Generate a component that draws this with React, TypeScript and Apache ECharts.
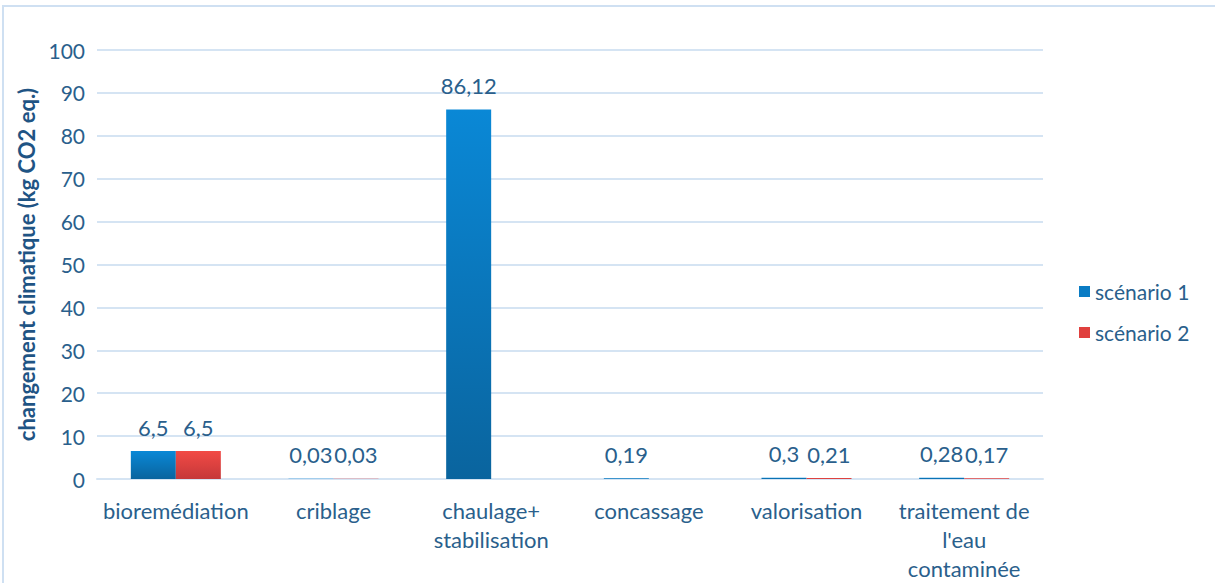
import React, { useEffect, useRef } from "react";
import * as echarts from "echarts";

const categories = [
  "bioremédiation",
  "criblage",
  "chaulage+\nstabilisation",
  "concassage",
  "valorisation",
  "traitement de\nl'eau\ncontaminée",
];
const scenario1 = [6.5, 0.03, 86.12, 0.19, 0.3, 0.28];
const scenario2: (number | null)[] = [6.5, 0.03, null, null, 0.21, 0.17];
const seriesNames = ["scénario 1", "scénario 2"];

const TEXT = "#2a5f8c";
const FONT = "Lato";
const FS = 22;

export default function App() {
  const ref = useRef<HTMLDivElement>(null);
  useEffect(() => {
    if (!ref.current) return;
    const chart = echarts.init(ref.current, null, { renderer: "svg" });
    const fmt = (p: any) =>
      p.value == null ? "" : String(p.value).replace(".", ",");
    const blueGrad = new echarts.graphic.LinearGradient(0, 0, 0, 1, [
      { offset: 0, color: "#0a88d6" },
      { offset: 1, color: "#0a649e" },
    ]);
    const redGrad = new echarts.graphic.LinearGradient(0, 0, 0, 1, [
      { offset: 0, color: "#f24a45" },
      { offset: 1, color: "#c5383a" },
    ]);
    const lbl = {
      show: true,
      position: "top",
      distance: 13,
      color: TEXT,
      fontSize: FS,
      fontFamily: FONT,
      formatter: fmt,
    };
    chart.setOption({
      animation: false,
      textStyle: { fontFamily: FONT },
      graphic: [
        {
          type: "rect",
          shape: { x: 3, y: 6, width: 1220, height: 590 },
          style: { fill: "none", stroke: "#cfe0f2", lineWidth: 2 },
        },
      ],
      grid: { left: 97, right: 172, top: 50, bottom: 102 },
      legend: {
        orient: "vertical",
        left: 1074,
        top: 276,
        itemWidth: 11,
        itemHeight: 11,
        itemGap: 20,
        icon: "rect",
        textStyle: { color: TEXT, fontSize: 21, fontFamily: FONT },
        data: [
          { name: seriesNames[0], itemStyle: { color: "#0a7cc4" } },
          { name: seriesNames[1], itemStyle: { color: "#e0403e" } },
        ],
      },
      xAxis: {
        type: "category",
        data: categories,
        axisLine: { lineStyle: { color: "#d5e4f3", width: 2 } },
        axisTick: { show: false },
        axisLabel: {
          color: TEXT,
          fontSize: FS,
          fontFamily: FONT,
          margin: 17,
          lineHeight: 29,
          interval: 0,
        },
      },
      yAxis: {
        type: "value",
        min: 0,
        max: 100,
        interval: 10,
        name: "changement climatique (kg CO2 eq.)",
        nameLocation: "middle",
        nameGap: 51,
        nameTextStyle: {
          color: "#1f5484",
          fontSize: 22,
          fontWeight: "bold",
          fontFamily: FONT,
        },
        axisLine: { show: false },
        axisTick: { show: false },
        axisLabel: { color: TEXT, fontSize: 21, fontFamily: FONT, margin: 12 },
        splitLine: { lineStyle: { color: "#d5e4f3", width: 2 } },
      },
      series: [
        {
          name: seriesNames[0],
          type: "bar",
          data: scenario1,
          barWidth: 45,
          barGap: "0%",
          itemStyle: { color: blueGrad },
          label: lbl,
        },
        {
          name: seriesNames[1],
          type: "bar",
          data: scenario2,
          barWidth: 45,
          barGap: "0%",
          itemStyle: { color: redGrad },
          label: lbl,
        },
      ],
    });
    return () => chart.dispose();
  }, []);
  return (
    <div
      ref={ref}
      style={{
        position: "fixed",
        left: 0,
        top: 0,
        width: 1215,
        height: 583,
        background: "#fff",
      }}
    />
  );
}
